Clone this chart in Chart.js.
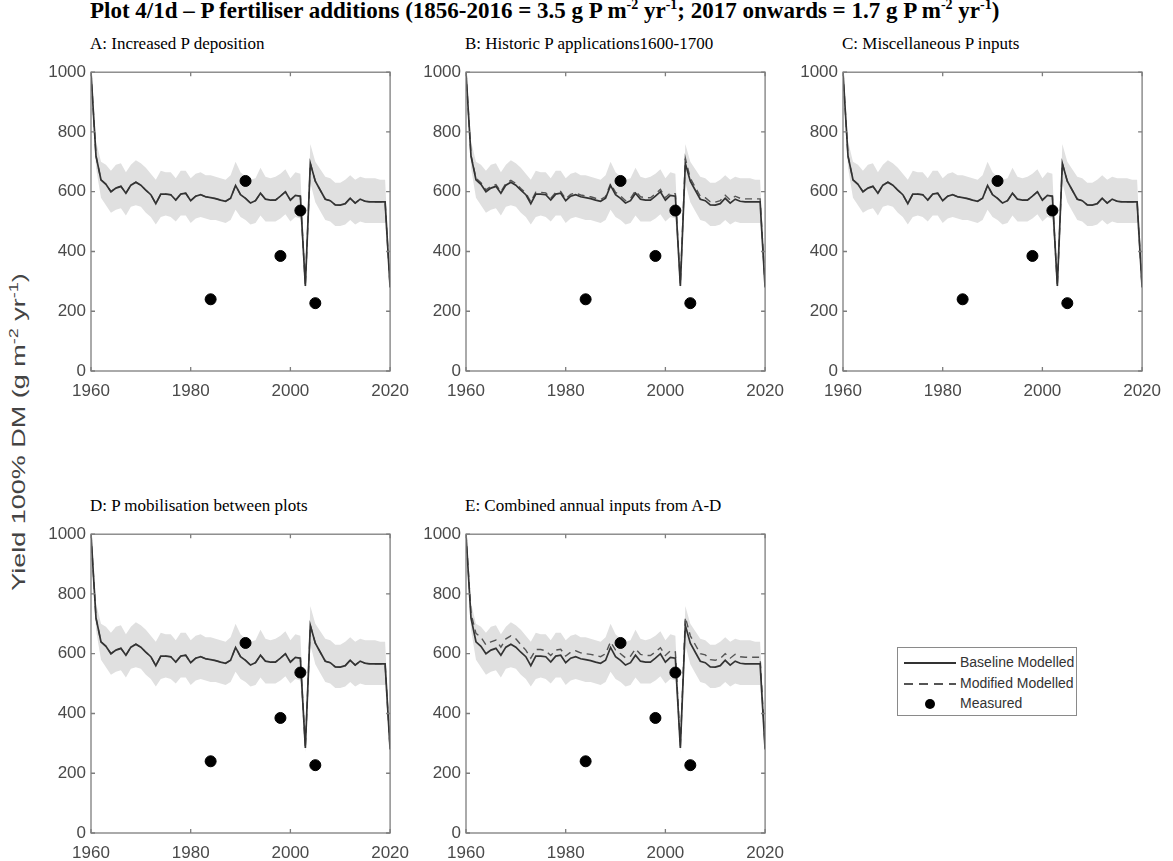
<!DOCTYPE html>
<html>
<head>
<meta charset="utf-8">
<script src="https://cdn.jsdelivr.net/npm/chart.js@4.4.0/dist/chart.umd.min.js"></script>
<style>
  body { margin: 0; background: #fff; }
  #page { position: relative; width: 1173px; height: 861px; overflow: hidden; }
  canvas { position: absolute; }
  .ttl { position: absolute; font-family: "Liberation Serif", serif; color: #000; white-space: nowrap; }
  #main { left: 90px; top: -3px; font-size: 23px; font-weight: bold; }
  .panel { font-size: 17px; }
  #ylab { position: absolute; left: 18px; top: 432px; font: 18px "Liberation Sans", Arial, sans-serif; color: #444;
          white-space: nowrap; transform: translate(-50%, -50%) rotate(-90deg) scaleX(1.5); }
  #legend { position: absolute; left: 897px; top: 647px; width: 178px; height: 67px; border: 1px solid #8a8a8a;
            font: 14px "Liberation Sans", Arial, sans-serif; color: #333; }
  .row { position: absolute; left: 0; height: 20px; width: 100%; }
  .row span { position: absolute; left: 62px; top: 2px; }
  .sw { position: absolute; left: 6px; top: 10px; width: 52px; height: 1.5px; }
</style>
</head>
<body>
<div id="page">
  <div id="main" class="ttl">Plot 4/1d – P fertiliser additions (1856-2016 = 3.5 g P m<sup style="font-size:14px">-2</sup> yr<sup style="font-size:14px">-1</sup>; 2017 onwards = 1.7 g P m<sup style="font-size:14px">-2</sup> yr<sup style="font-size:14px">-1</sup>)</div>
  <div id="ylab">Yield 100% DM (g m<sup style="font-size:12px">-2</sup> yr<sup style="font-size:12px">-1</sup>)</div>
  <div id="legend">
    <div class="row" style="top:4px"><div class="sw" style="background:#333"></div><span>Baseline Modelled</span></div>
    <div class="row" style="top:25px"><div class="sw" style="background:repeating-linear-gradient(to right,#555 0 9px,transparent 9px 15px)"></div><span>Modified Modelled</span></div>
    <div class="row" style="top:45px"><div style="position:absolute;left:27px;top:6px;width:10px;height:10px;border-radius:50%;background:#000"></div><span>Measured</span></div>
  </div>
</div>
<script>
// jaren 1960-2020
const years = [1960,1961,1962,1963,1964,1965,1966,1967,1968,1969,1970,1971,1972,1973,1974,1975,1976,1977,1978,1979,
  1980,1981,1982,1983,1984,1985,1986,1987,1988,1989,1990,1991,1992,1993,1994,1995,1996,1997,1998,1999,
  2000,2001,2002,2003,2004,2005,2006,2007,2008,2009,2010,2011,2012,2013,2014,2015,2016,2017,2018,2019,2020];

const baseline = [1000,720,640,625,600,612,618,595,622,632, 622,605,590,560,592,592,590,572,592,595,
  570,585,590,583,580,577,572,568,578,621, 590,578,562,570,595,575,572,572,585,600,
  572,588,585,285,695,635,605,575,570,556, 555,560,578,562,575,568,566,566,566,566, 280];

const bandHigh = [1000,770,700,690,670,690,695,665,690,705, 695,680,660,640,670,665,665,645,670,670,
  645,660,665,655,655,650,645,640,655,700, 665,650,640,645,680,650,645,650,660,675,
  645,665,660,300,760,700,675,650,645,630, 630,640,655,640,650,645,645,645,640,640, 290];

const bandLow = [990,680,580,555,530,540,545,520,550,555, 550,530,515,490,515,520,515,500,520,520,
  495,510,515,510,505,505,500,495,505,540, 515,505,490,495,520,500,500,500,510,525,
  500,515,510,270,630,565,535,505,500,485, 485,490,505,490,500,495,495,495,495,495, 270];

const modifiedB = [1000,722,645,630,606,618,624,600,628,638, 628,611,596,566,598,598,596,578,598,601,
  576,591,596,589,586,583,578,574,584,627, 598,586,570,578,603,583,580,580,593,608,
  580,596,593,290,712,645,615,585,580,566, 565,570,588,572,585,578,576,576,576,576, 285];

const modifiedE = [1000,735,668,655,630,640,646,622,650,660, 650,630,612,585,614,614,610,594,612,615,
  592,605,610,603,600,598,594,590,600,640, 612,600,586,592,616,598,594,594,606,620,
  594,610,606,290,722,660,630,600,596,580, 578,584,600,585,598,590,588,588,588,588, 285];

const measuredYears = [1984, 1991, 1998, 2002, 2005];
const measured = [240, 636, 385, 537, 227];

const xTicks = [1960, 1980, 2000, 2020];
const yTicks = [0, 200, 400, 600, 800, 1000];

const panels = [
  { title: "A: Increased P deposition", left: 91, top: 67, mod: baseline },
  { title: "B: Historic P applications1600-1700", left: 466, top: 67, mod: modifiedB },
  { title: "C: Miscellaneous P inputs", left: 843, top: 67, mod: baseline },
  { title: "D: P mobilisation between plots", left: 91, top: 529, mod: baseline },
  { title: "E: Combined annual inputs from A-D", left: 466, top: 529, mod: modifiedE },
];

const PW = 303, PH = 304;           // plotgebied
const AXW = 50, AXH = 30, PADT = 10, PADR = 25;

const toXY = (xs, ys) => xs.map((x, i) => ({ x: x, y: ys[i] }));

// kader + ticks naar binnen (MATLAB-stijl)
const boxPlugin = {
  id: "box",
  afterDraw(chart) {
    const a = chart.chartArea, c = chart.ctx;
    const xs = chart.scales.x, ys = chart.scales.y;
    c.save();
    c.strokeStyle = "#7d7d7d";
    c.lineWidth = 1.3;
    c.strokeRect(a.left, a.top, a.right - a.left, a.bottom - a.top);
    c.beginPath();
    xs.ticks.forEach(t => {
      const p = xs.getPixelForValue(t.value);
      c.moveTo(p, a.bottom); c.lineTo(p, a.bottom - 4);
      c.moveTo(p, a.top); c.lineTo(p, a.top + 4);
    });
    ys.ticks.forEach(t => {
      const p = ys.getPixelForValue(t.value);
      c.moveTo(a.left, p); c.lineTo(a.left + 4, p);
      c.moveTo(a.right, p); c.lineTo(a.right - 4, p);
    });
    c.stroke();
    c.restore();
  }
};

const page = document.getElementById("page");

panels.forEach(p => {
  const t = document.createElement("div");
  t.className = "ttl panel";
  t.style.left = (p.left - 1) + "px";
  t.style.top = (p.top - 33) + "px";
  t.textContent = p.title;
  page.appendChild(t);

  const cv = document.createElement("canvas");
  cv.width = PW + AXW + PADR;
  cv.height = PH + AXH + PADT;
  cv.style.left = (p.left - AXW) + "px";
  cv.style.top = (p.top - PADT) + "px";
  page.appendChild(cv);

  // volgorde: index 0 wordt bovenop getekend
  new Chart(cv.getContext("2d"), {
    type: "line",
    data: {
      datasets: [
        { type: "scatter", data: toXY(measuredYears, measured), showLine: false,
          pointRadius: 5.5, pointBackgroundColor: "#000", pointBorderColor: "#000" },
        { data: toXY(years, baseline), borderColor: "#333", borderWidth: 1.7,
          pointRadius: 0, fill: false, tension: 0 },
        { data: toXY(years, p.mod), borderColor: "#555", borderWidth: 1.4, borderDash: [7, 5],
          pointRadius: 0, fill: false, tension: 0 },
        { data: toXY(years, bandHigh), borderWidth: 0, pointRadius: 0, fill: "+1",
          backgroundColor: "#e0e0e0", tension: 0 },
        { data: toXY(years, bandLow), borderWidth: 0, pointRadius: 0, fill: false, tension: 0 },
      ],
    },
    options: {
      responsive: false,
      animation: false,
      devicePixelRatio: 1,
      layout: { padding: { top: PADT, right: PADR, left: 0, bottom: 0 } },
      plugins: { legend: { display: false }, tooltip: { enabled: false },
                 filler: { drawTime: "beforeDatasetsDraw" } },
      scales: {
        x: {
          type: "linear", min: 1960, max: 2020,
          afterBuildTicks: s => { s.ticks = xTicks.map(v => ({ value: v })); },
          afterFit: s => { s.height = AXH; },
          grid: { display: false, drawTicks: false }, border: { display: false },
          ticks: { padding: 10, maxRotation: 0, color: "#4a4a4a", callback: v => String(v),
                   font: { family: "Liberation Sans", size: 17 } },
        },
        y: {
          min: 0, max: 1000,
          afterBuildTicks: s => { s.ticks = yTicks.map(v => ({ value: v })); },
          afterFit: s => { s.width = AXW; },
          grid: { display: false, drawTicks: false }, border: { display: false },
          ticks: { padding: 5, color: "#4a4a4a", callback: v => String(v),
                   font: { family: "Liberation Sans", size: 17 } },
        },
      },
    },
    plugins: [boxPlugin],
  });
});
</script>
</body>
</html>
